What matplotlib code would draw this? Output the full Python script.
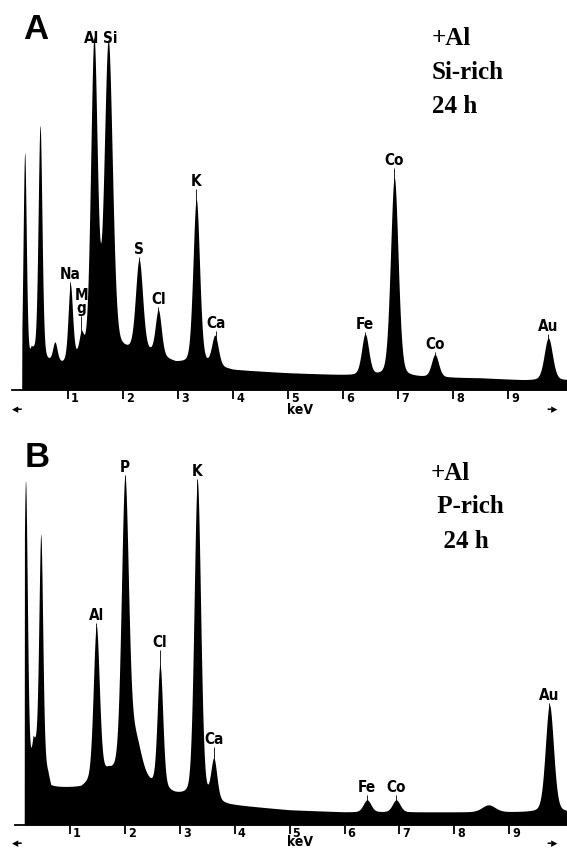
import numpy as np
import matplotlib.pyplot as plt
from matplotlib.transforms import ScaledTranslation

W, H = 567, 849

# ---- panel A: +Al, Si-rich, 24 h ----
a_peak_kev = [0.21, 0.49, 0.76, 1.04, 1.24, 1.47, 1.73, 2.29, 2.64, 3.33, 3.67, 6.40, 6.93, 7.67, 9.73]
a_peak_top = [236, 263, 45, 102, 50, 345, 345, 128, 78, 190, 53, 55, 212, 35, 52]
a_peak_sig = [0.03, 0.035, 0.04, 0.04, 0.04, 0.06, 0.075, 0.065, 0.055, 0.06, 0.06, 0.065, 0.07, 0.065, 0.075]
a_bg_kev = [0.16, 0.33, 0.62, 0.90, 1.10, 2.00, 2.50, 2.95, 3.50, 4.00, 5.00, 6.00, 7.20, 8.50, 9.30, 10.10]
a_bg_cnt = [0, 37, 27, 25, 30, 38, 36, 27, 25, 20, 17, 15, 13, 12, 10, 10]
a_lab_text = ["Na", "M\ng", "Al", "Si", "S", "Cl", "K", "Ca", "Fe", "Co", "Co", "Au"]
a_lab_kev = [1.04, 1.24, 1.47, 1.73, 2.29, 2.64, 3.33, 3.69, 6.40, 6.93, 7.67, 9.73]
a_lab_dx = [0, 0, -0.04, 0.04, 0, 0, 0, 0, 0, 0, 0, 0]
a_lab_gap = [2, 14, 1, 1, 2, 3, 10, 4, 2, 10, 2, 4]
a_info = ["+Al", "Si-rich", "24 h"]

# ---- panel B: +Al, P-rich, 24 h ----
b_peak_kev = [0.19, 0.47, 1.48, 2.00, 2.17, 2.64, 3.32, 3.62, 6.41, 6.94, 8.62, 9.73]
b_peak_top = [343, 289, 197, 332, 85, 158, 343, 63, 25, 25, 20, 120]
b_peak_sig = [0.035, 0.035, 0.055, 0.065, 0.12, 0.05, 0.06, 0.055, 0.07, 0.07, 0.12, 0.075]
b_bg_kev = [0.17, 0.33, 0.60, 0.65, 1.20, 1.70, 2.42, 2.90, 3.90, 5.00, 6.00, 9.00, 10.10]
b_bg_cnt = [0, 80, 48, 37, 37, 52, 40, 30, 20, 15, 13, 13, 13]
b_lab_text = ["Al", "P", "Cl", "K", "Ca", "Fe", "Co", "Au"]
b_lab_kev = [1.48, 2.00, 2.64, 3.32, 3.62, 6.41, 6.94, 9.73]
b_lab_dx = [0, 0, 0, 0, 0, 0, 0, 0]
b_lab_gap = [3, 2, 14, 2, 11, 5, 5, 2]
b_info = ["+Al", " P-rich", "  24 h"]

ticks = [1, 2, 3, 4, 5, 6, 7, 8, 9]

cond = dict(family="DejaVu Sans", fontstretch="condensed", fontweight="bold")


def spectrum(x, peak_kev, peak_top, peak_sig, bg_kev, bg_cnt):
    # pseudo-Voigt peaks on a read-off background
    y = np.interp(x, bg_kev, bg_cnt)
    for e, top, s in zip(peak_kev, peak_top, peak_sig):
        amp = top - np.interp(e, bg_kev, bg_cnt)
        hw = 1.1774 * s
        g = np.exp(-0.5 * ((x - e) / s) ** 2)
        lor = 1 / (1 + ((x - e) / hw) ** 2)
        y += amp * (0.78 * g + 0.22 * lor)
    y[x < bg_kev[0]] = 0
    return y


def panel(rect, xlim, ylim, peaks, bg, labels):
    ax = fig.add_axes(rect)
    x = np.arange(xlim[0], xlim[1], 0.004)
    y = spectrum(x, *peaks, *bg)
    ax.fill_between(x, 0, y, color="black", lw=0)
    for txt, e, dx, gap in zip(*labels):
        near = np.abs(x - e) < 0.02
        top = min(y[near].max(), ylim[1] - 17)
        ax.vlines(e, 0, top + gap, color="black", lw=0.6)
        ax.text(e + dx, top + gap, txt, ha="center", va="bottom", fontsize=11,
                linespacing=0.85, **cond)
    ax.set_xlim(*xlim)
    ax.set_ylim(*ylim)
    for s in ["top", "left", "right"]:
        ax.spines[s].set_visible(False)
    ax.spines["bottom"].set_linewidth(1.3)
    ax.set_yticks([])
    ax.set_xticks(ticks)
    ax.set_xticklabels([str(t) for t in ticks], fontsize=9, **cond)
    ax.tick_params(axis="x", direction="out", length=6.5, width=1.3, pad=-4.8)
    for lbl in ax.get_xticklabels():
        lbl.set_ha("left")
        lbl.set_transform(lbl.get_transform() + ScaledTranslation(3 / 100, 0, fig.dpi_scale_trans))
    ax.patch.set_alpha(0)
    return ax


fig = plt.figure(figsize=(W / 100, H / 100), dpi=100)

panel([12 / W, 1 - 390 / H, 555 / W, 360 / H], (-0.02, 10.07), (0, 360),
      (a_peak_kev, a_peak_top, a_peak_sig), (a_bg_kev, a_bg_cnt),
      (a_lab_text, a_lab_kev, a_lab_dx, a_lab_gap))
panel([15 / W, 1 - 825 / H, 552 / W, 365 / H], (0, 10.05), (0, 365),
      (b_peak_kev, b_peak_top, b_peak_sig), (b_bg_kev, b_bg_cnt),
      (b_lab_text, b_lab_kev, b_lab_dx, b_lab_gap))

# panel letters
fig.text(23 / W, 1 - 39 / H, "A", fontsize=25, fontweight="bold", family="Liberation Sans", va="baseline")
fig.text(25 / W, 1 - 467 / H, "B", fontsize=25, fontweight="bold", family="Liberation Sans", va="baseline")

# sample info
for txt, base in zip(a_info, [45, 79, 113]):
    fig.text(432 / W, 1 - base / H, txt, fontsize=18, fontweight="bold", family="Liberation Serif", va="baseline")
for txt, base in zip(b_info, [480, 513, 548]):
    fig.text(431 / W, 1 - base / H, txt, fontsize=18, fontweight="bold", family="Liberation Serif", va="baseline")

# axis captions
for base, arrow_y in [(414, 410), (846, 844)]:
    fig.text(300 / W, 1 - base / H, "keV", fontsize=10, ha="center", va="baseline", **cond)
    fig.text(12 / W, 1 - arrow_y / H, "◂-", fontsize=9, fontweight="bold", va="center")
    fig.text(546 / W, 1 - arrow_y / H, "-▸", fontsize=9, fontweight="bold", va="center")

plt.savefig("out.png", dpi=100)
